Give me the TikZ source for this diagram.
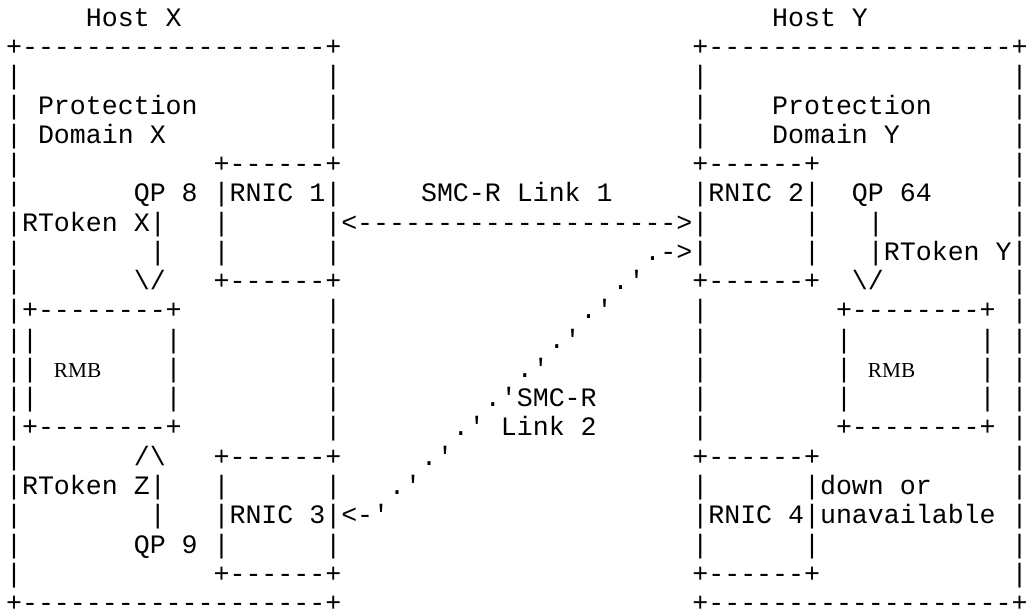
\documentclass[tikz,border=0pt]{standalone}
\usepackage{fontspec}
\setmainfont{Liberation Serif}
\setmonofont{Liberation Mono}
\begin{document}
\begin{tikzpicture}[x=6pt, y=-11pt,
    ascii/.style={font=\ttfamily\fontsize{10}{11}\selectfont, anchor=base west, inner sep=0pt, outer sep=0pt},
    serif/.style={ascii, font=\rmfamily\fontsize{8}{10}\selectfont}]
\useasboundingbox (-2.3pt,-1.1pt) rectangle (385.3pt,-231.3pt);
% hosts
\node[ascii] (hostx) at (5,1) {Host X};
\node[ascii] (hosty) at (48,1) {Host Y};
\foreach \c/\n in {0/x, 43/y} {
    \node[ascii] (top\n) at (\c,2) {+-------------------+};
    \node[ascii] (bot\n) at (\c,21) {+-------------------+};
}
\foreach \r in {3,...,20} {
    \node[ascii] (wl\r) at (0,\r) {|};
    \node[ascii] (wr\r) at (63,\r) {|};
}
\foreach \r in {3,4,5,7,8,9,11,12,13,14,15,17,18,19} {
    \node[ascii] (wxi\r) at (20,\r) {|};
    \node[ascii] (wyi\r) at (43,\r) {|};
}
\node[ascii] (protx) at (2,4) {Protection};
\node[ascii] (domx) at (2,5) {Domain X};
\node[ascii] (proty) at (48,4) {Protection};
\node[ascii] (domy) at (48,5) {Domain Y};
% RNICs
\foreach \r in {6,10,16,20} {
    \node[ascii] (nx\r) at (13,\r) {+------+};
    \node[ascii] (ny\r) at (43,\r) {+------+};
}
\foreach \r in {7,8,9,17,18,19} {
    \node[ascii] (nl\r) at (13,\r) {|};
    \node[ascii] (nr\r) at (50,\r) {|};
}
\node[ascii] (rnic1) at (14,7) {RNIC 1};
\node[ascii] (rnic2) at (44,7) {RNIC 2};
\node[ascii] (rnic3) at (14,18) {RNIC 3};
\node[ascii] (rnic4) at (44,18) {RNIC 4};
\node[ascii] (down) at (51,17) {down or};
\node[ascii] (unavail) at (51,18) {unavailable};
% RMBs
\foreach \c/\n in {1/x, 52/y} {
    \node[ascii] (rmbtop\n) at (\c,11) {+--------+};
    \node[ascii] (rmbbot\n) at (\c,15) {+--------+};
    \foreach \r in {12,13,14} {
        \node[ascii] (rmbl\n\r) at (\c,\r) {|};
        \node[ascii] (rmbr\n\r) at (\c+9,\r) {|};
    }
    \node[serif] (rmb\n) at (\c+2,13) {RMB};
}
% QPs and RTokens
\node[ascii] (qp8) at (8,7) {QP 8};
\node[ascii] (rtokx) at (1,8) {RToken X|};
\node[ascii] (barx) at (9,9) {|};
\node[ascii] (downx) at (8,10) {\textbackslash/};
\node[ascii] (upz) at (8,16) {/\textbackslash};
\node[ascii] (rtokz) at (1,17) {RToken Z|};
\node[ascii] (barz) at (9,18) {|};
\node[ascii] (qp9) at (8,19) {QP 9};
\node[ascii] (qp64) at (53,7) {QP 64};
\node[ascii] (bary) at (54,8) {|};
\node[ascii] (rtoky) at (54,9) {|RToken Y};
\node[ascii] (downy) at (53,10) {\textbackslash/};
% links
\node[ascii] (link1) at (26,7) {SMC-R Link 1};
\node[ascii] (arrow1) at (21,8) {<-------------------->};
\node[ascii] (tip2) at (40,9) {.->};
\foreach \r [evaluate=\r as \c using int(58-2*\r)] in {10,...,17}
    \node[ascii] (dot\r) at (\c,\r) {.'};
\node[ascii] (tail2) at (21,18) {<-'};
\node[ascii] (link2a) at (32,14) {SMC-R};
\node[ascii] (link2b) at (31,15) {Link 2};
\end{tikzpicture}
\end{document}
